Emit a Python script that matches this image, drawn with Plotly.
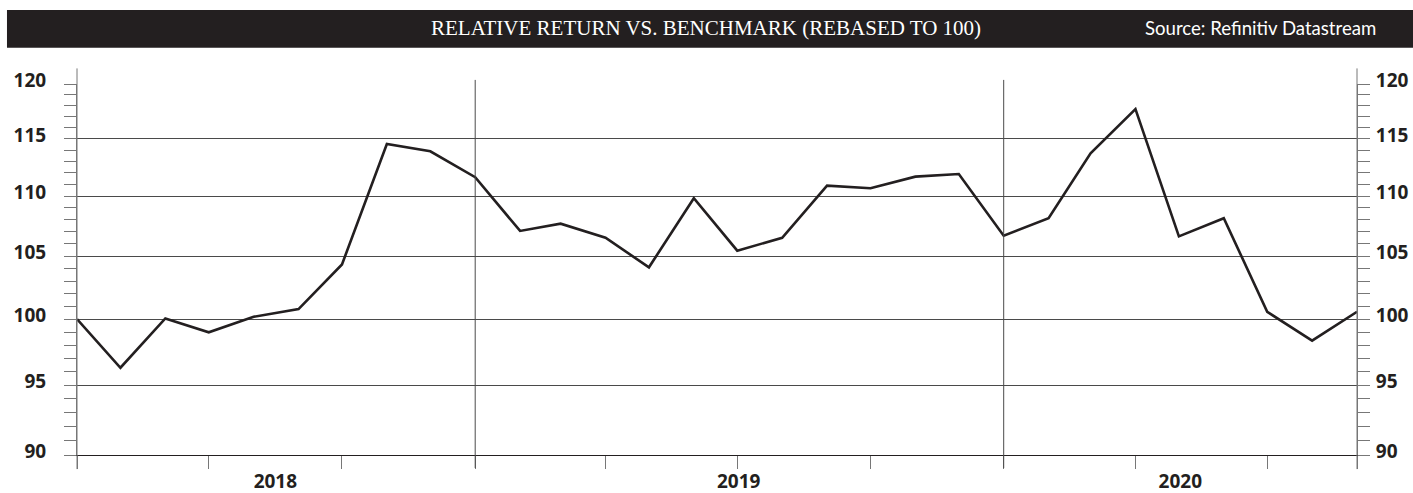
import math
import plotly.graph_objects as go

# ---- data ----
months = [
    "2018-04-01", "2018-05-01", "2018-06-01", "2018-07-01", "2018-08-01", "2018-09-01",
    "2018-10-01", "2018-11-01", "2018-12-01",
    "2019-01-01", "2019-02-01", "2019-03-01", "2019-04-01", "2019-05-01", "2019-06-01",
    "2019-07-01", "2019-08-01", "2019-09-01", "2019-10-01", "2019-11-01", "2019-12-01",
    "2020-01-01", "2020-02-01", "2020-03-01", "2020-04-01", "2020-05-01", "2020-06-01",
    "2020-07-01", "2020-08-01", "2020-09-01",
]
relative_return = [
    100.0, 96.3, 100.05, 98.98, 100.18, 100.78, 104.33, 114.54, 113.9,
    111.63, 107.08, 107.68, 106.51, 104.1, 109.83, 105.45, 106.51, 110.9, 110.68, 111.68, 111.91,
    106.68, 108.14, 113.72, 117.69, 106.63, 108.14, 100.57, 98.34, 100.57,
]
y_major = [90, 95, 100, 105, 110, 115, 120]
y_minor = list(range(90, 121))
quarter_ticks = ["2018-04-01", "2018-07-01", "2018-10-01", "2019-01-01", "2019-04-01",
                 "2019-07-01", "2019-10-01", "2020-01-01", "2020-04-01", "2020-07-01", "2020-09-01"]
year_label_pos = ["2018-08-16", "2019-07-02", "2020-05-02"]
year_labels = ["2018", "2019", "2020"]
year_lines = ["2019-01-01", "2020-01-01"]
x_range = ["2018-04-01", "2020-09-01"]

title_text = "RELATIVE RETURN VS. BENCHMARK (REBASED TO 100)"
source_text = "Source: Refinitiv Datastream"

INK = "#231f20"
GRID = "#4a4a4a"
AXIS = "#777777"
TICKFONT = dict(family="Open Sans", size=19, color=INK, weight=700)

fig = go.Figure()
fig.add_trace(go.Scatter(x=months, y=relative_return, mode="lines",
                         line=dict(color=INK, width=2.6), showlegend=False,
                         hoverinfo="skip"))
# invisible twin trace so that the right axis / year-label axis render
fig.add_trace(go.Scatter(x=months, y=relative_return, mode="lines", xaxis="x2", yaxis="y2",
                         line=dict(color="rgba(0,0,0,0)", width=0), showlegend=False,
                         hoverinfo="skip"))

yr = [math.log10(90), math.log10(120)]

yaxis_common = dict(
    type="log", range=yr, tickmode="array", tickvals=y_major,
    ticktext=[str(v) for v in y_major], ticks="outside", ticklen=12, tickwidth=1,
    tickcolor=AXIS, showline=True, linecolor=AXIS, linewidth=1,
    tickfont=TICKFONT, automargin=False, zeroline=False,
    minor=dict(tickmode="array", tickvals=y_minor, ticks="outside", ticklen=12,
               tickwidth=1, tickcolor=AXIS, showgrid=False),
    ticklabelshift=-4,
)

fig.update_layout(
    width=1413, height=493,
    margin=dict(l=77, r=56, t=84, b=38, pad=0),
    paper_bgcolor="white", plot_bgcolor="white",
    template="none",
    xaxis=dict(type="date", range=x_range, tickmode="array", tickvals=quarter_ticks,
               ticktext=["" for _ in quarter_ticks], ticks="outside", ticklen=13,
               tickwidth=1, tickcolor=AXIS, showgrid=False, showline=True,
               linecolor=INK, linewidth=1.3, zeroline=False, automargin=False),
    xaxis2=dict(type="date", range=x_range, overlaying="x", side="bottom", anchor="y2",
                tickmode="array", tickvals=year_label_pos, ticktext=year_labels,
                ticks="", showgrid=False, showline=False, zeroline=False,
                tickfont=TICKFONT, automargin=False, ticklabelstandoff=13),
    yaxis=dict(side="left", showgrid=True, gridcolor=GRID, gridwidth=1,
               ticklabelstandoff=14, **yaxis_common),
    yaxis2=dict(side="right", overlaying="y", showgrid=False,
                ticklabelstandoff=2, **yaxis_common),
    shapes=[
        # header bar
        dict(type="rect", xref="paper", yref="paper", x0=-0.0547, x1=1.05, y0=1.0978, y1=1.1995,
             fillcolor=INK, line=dict(width=0), layer="below"),
        # axis line extensions
        dict(type="line", xref="paper", yref="paper", x0=0, x1=0, y0=-0.038, y1=1.042,
             line=dict(color=AXIS, width=1)),
        dict(type="line", xref="paper", yref="paper", x0=1, x1=1, y0=-0.038, y1=1.042,
             line=dict(color=AXIS, width=1)),
    ] + [
        dict(type="line", xref="x", yref="paper", x0=d, x1=d, y0=-0.035, y1=1.011,
             line=dict(color=GRID, width=1))
        for d in year_lines
    ],
    annotations=[
        dict(text=title_text, xref="paper", yref="paper", x=0.4914, y=1.151,
             xanchor="center", yanchor="middle", showarrow=False,
             font=dict(family="Liberation Serif", size=21, color="white")),
        dict(text=source_text, xref="paper", yref="paper", x=1.0164, y=1.151,
             xanchor="right", yanchor="middle", showarrow=False,
             font=dict(family="Lato", size=18.6, color="white")),
    ],
)

fig.write_html("out.html", config={"displayModeBar": False},
               post_script="document.body.style.margin='0';")
